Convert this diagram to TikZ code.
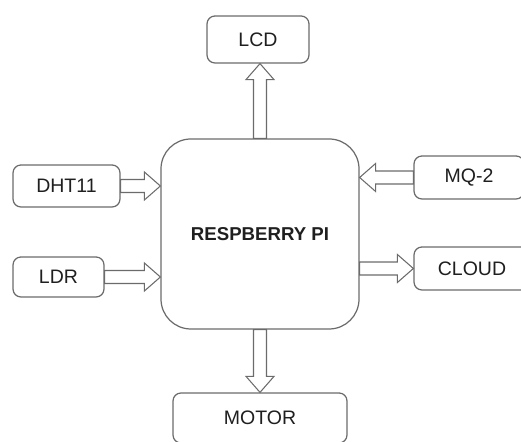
\documentclass[tikz,border=0pt]{standalone}
\usepackage{fontspec}
\setmainfont{Liberation Sans}
\usetikzlibrary{calc}
\definecolor{linegray}{gray}{0.42}
\definecolor{inkdark}{gray}{0.12}

\begin{document}
\begin{tikzpicture}[
    unit/.style={draw=linegray, line width=0.7pt, rounded corners=4.5pt, fill=white,
        text=inkdark, font=\fontsize{11.1}{13}\selectfont, inner sep=0pt},
    core/.style={draw=linegray, line width=0.7pt, rounded corners=17pt, text=inkdark,
        font=\fontsize{10.6}{13}\selectfont\bfseries,
        minimum width=3.96cm, minimum height=3.80cm},
    fatarrow/.style={draw=linegray, line width=0.6pt, fill=white, to path={
        ($(\tikztostart)!0.13cm!90:(\tikztotarget)$)
        -- ($(\tikztotarget)!0.32cm!(\tikztostart)!0.13cm!-90:(\tikztostart)$)
        -- ($(\tikztotarget)!0.32cm!(\tikztostart)!0.28cm!-90:(\tikztostart)$)
        -- (\tikztotarget)
        -- ($(\tikztotarget)!0.32cm!(\tikztostart)!0.28cm!90:(\tikztostart)$)
        -- ($(\tikztotarget)!0.32cm!(\tikztostart)!0.13cm!90:(\tikztostart)$)
        -- ($(\tikztostart)!0.13cm!-90:(\tikztotarget)$)
        -- cycle}}
]
    % Frame of the picture
    \clip (0,0) rectangle (10.42,8.84);

    % Controller
    \node[core] (pi) at (5.20,4.16) {RESPBERRY PI};

    % Peripherals
    \foreach \name/\txt/\x/\y/\w/\h in {%
        lcd/LCD/5.16/8.05/2.04/0.94,%
        dht/DHT11/1.33/5.12/2.14/0.84,%
        ldr/LDR/1.17/3.30/1.82/0.80,%
        mq/MQ-2/9.38/5.29/2.20/0.86,%
        cloud/CLOUD/9.44/3.47/2.32/0.86,%
        motor/MOTOR/5.20/0.48/3.48/1.00%
    } {
        \node[unit, minimum width=\w cm, minimum height=\h cm] (\name) at (\x,\y) {\txt};
    }

    % Inputs into the controller
    \draw[fatarrow] (dht.east) to (dht.east -| pi.west);
    \draw[fatarrow] (ldr.east) to (ldr.east -| pi.west);
    \draw[fatarrow] (mq.west) to (mq.west -| pi.east);

    % Outputs of the controller
    \draw[fatarrow] (pi.north) to (pi.north |- lcd.south);
    \draw[fatarrow] (cloud.west -| pi.east) to (cloud.west);
    \draw[fatarrow] (pi.south) to (pi.south |- motor.north);
\end{tikzpicture}
\end{document}
